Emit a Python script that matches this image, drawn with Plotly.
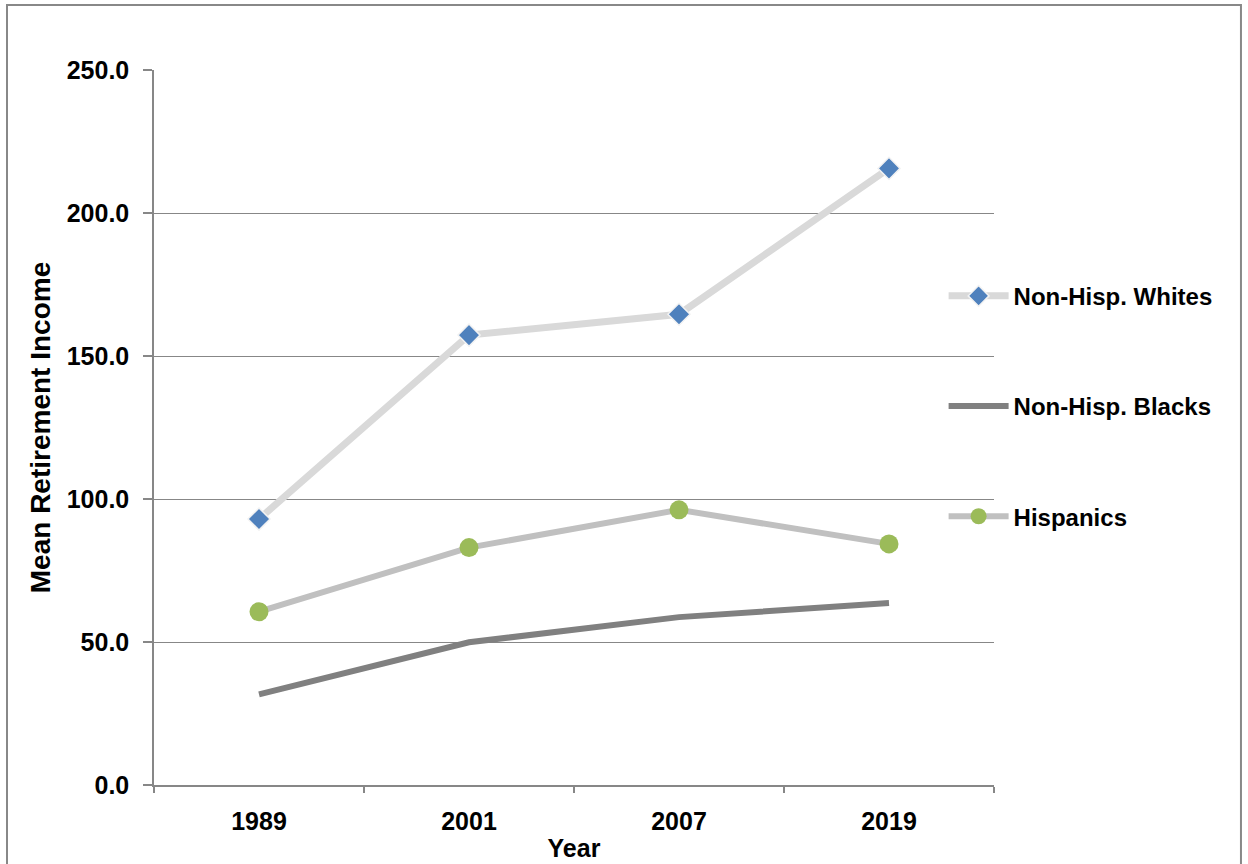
import plotly.graph_objects as go

years = ["1989", "2001", "2007", "2019"]
whites = [93.0, 157.3, 164.6, 215.6]
blacks = [31.7, 49.9, 58.7, 63.6]
hispanics = [60.6, 83.0, 96.2, 84.3]

y_ticks = [0, 50, 100, 150, 200, 250]

FONT = "Liberation Sans, Arial, sans-serif"
AXIS_GRAY = "#878787"

fig = go.Figure()

fig.add_trace(go.Scatter(
    x=years, y=whites, name="Non-Hisp. Whites", mode="lines+markers",
    line=dict(color="#D9D9D9", width=7),
    marker=dict(symbol="diamond", size=17, color="#4F81BD",
                line=dict(color="#F2F2F2", width=1.5)),
    legendgroup="w",
))
fig.add_trace(go.Scatter(
    x=years, y=blacks, name="Non-Hisp. Blacks", mode="lines",
    line=dict(color="#808080", width=6),
    legendgroup="b",
))
fig.add_trace(go.Scatter(
    x=years, y=hispanics, name="Hispanics", mode="lines+markers",
    line=dict(color="#C0C0C0", width=6),
    marker=dict(symbol="circle", size=19, color="#9BBB59",
                line=dict(color="#9BBB59", width=0)),
    legendgroup="h",
))

# outer frame around the whole chart
fig.add_shape(type="rect", xref="paper", yref="paper",
              x0=-0.175, x1=1.294, y0=-0.14, y1=1.091,
              line=dict(color="#888888", width=2), layer="below")

fig.update_layout(
    width=1248, height=864,
    margin=dict(l=154, r=254, t=70, b=79),
    paper_bgcolor="white", plot_bgcolor="white",
    font=dict(family=FONT, size=25, color="black", weight="bold"),
    showlegend=True,
    legend=dict(
        x=0.94, y=0.715, xanchor="left", yanchor="top",
        font=dict(family=FONT, size=24, color="black", weight="bold"),
        traceorder="grouped", tracegroupgap=76,
        bgcolor="rgba(0,0,0,0)", itemwidth=60,
    ),
    xaxis=dict(
        type="category", categoryorder="array", categoryarray=years,
        range=[-0.5, 3.5], tickson="boundaries",
        ticks="outside", ticklen=6, tickcolor=AXIS_GRAY, tickwidth=1.5,
        showline=True, linecolor=AXIS_GRAY, linewidth=1.5,
        showgrid=False, zeroline=False,
        tickfont=dict(family=FONT, size=25, weight="bold"),
        ticklabelstandoff=13,
        title=dict(text="Year", standoff=6,
                   font=dict(family=FONT, size=25, weight="bold")),
        automargin=False,
    ),
    yaxis=dict(
        range=[0, 250], tickvals=y_ticks, tickformat=".1f",
        ticks="outside", ticklen=9, tickcolor=AXIS_GRAY, tickwidth=1.5,
        showline=True, linecolor=AXIS_GRAY, linewidth=1.5,
        showgrid=True, gridcolor=AXIS_GRAY, gridwidth=1.3,
        zeroline=False,
        tickfont=dict(family=FONT, size=25, weight="bold"),
        ticklabelstandoff=9,
        title=dict(text="Mean Retirement Income", standoff=8,
                   font=dict(family=FONT, size=28, weight="bold")),
        automargin=False,
    ),
)

fig.write_html("out.html")
